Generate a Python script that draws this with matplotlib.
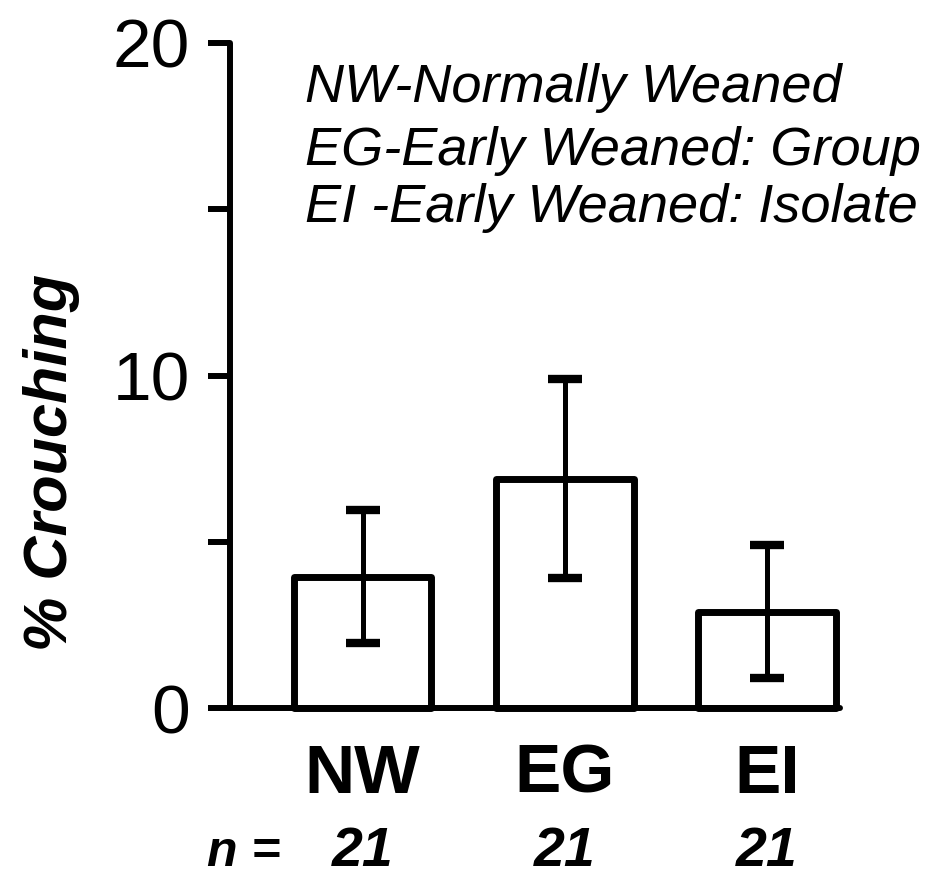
import numpy as np
import matplotlib
matplotlib.use("Agg")
from matplotlib import pyplot as plt
from matplotlib.ticker import FixedLocator

plt.rcParams['font.family'] = ['Liberation Sans', 'DejaVu Sans']

# group means and error (± SE) of % crouching
groups = ["NW", "EG", "EI"]
means = [3.95, 6.9, 2.9]
errors = [2.0, 3.0, 2.0]
n_sizes = ["21", "21", "21"]
legend_lines = ["NW-Normally Weaned",
                "EG-Early Weaned: Group",
                "EI -Early Weaned: Isolate"]

W, H = 929, 881
fig = plt.figure(figsize=(W / 100, H / 100), dpi=100)
ax = fig.add_axes([230 / W, 1 - 708 / H, 610 / W, 665 / H])

x = np.arange(len(groups))
ax.bar(x, means, width=0.68, fill=False, edgecolor='black', linewidth=5,
       joinstyle='round', clip_on=False, zorder=2)
eb = ax.errorbar(x, means, yerr=errors, fmt='none', ecolor='black',
                 elinewidth=3.6, capsize=12.5, capthick=6, clip_on=False,
                 zorder=3)
for cap in eb[1]:
    cap.set_solid_capstyle('round')

ax.set_xlim(-0.656, 2.36)
ax.set_ylim(0, 20)

for side in ['top', 'right']:
    ax.spines[side].set_visible(False)
for side in ['left', 'bottom']:
    ax.spines[side].set_linewidth(4.3)
    ax.spines[side].set_capstyle('round')

ax.set_yticks([0, 10, 20])
ax.yaxis.set_minor_locator(FixedLocator([5, 15]))
ax.tick_params(axis='y', which='both', length=16, width=4.3, pad=13,
               labelsize=50, direction='out')

ax.set_xticks(x)
ax.set_xticklabels(groups, fontsize=50, fontweight='bold')
ax.tick_params(axis='x', length=0, pad=25)

# sample sizes below group names
for xi, n in zip(x, n_sizes):
    ax.text(xi, -0.238, n, transform=ax.get_xaxis_transform(), ha='center',
            va='baseline', fontsize=40, fontweight='bold', fontstyle='italic')
ax.text(-0.59, -0.238, "n =", transform=ax.get_xaxis_transform(), ha='center',
        va='baseline', fontsize=36, fontweight='bold', fontstyle='italic')

fig.text(52 / W, 1 - 462 / H, "% Crouching", rotation=90, ha='center',
         va='center', fontsize=44, fontweight='bold', fontstyle='italic')

for line, base in zip(legend_lines, [102, 165, 222]):
    fig.text(305 / W, 1 - base / H, line, ha='left', va='baseline',
             fontsize=39, fontstyle='italic')

fig.savefig("out.png", dpi=100)
